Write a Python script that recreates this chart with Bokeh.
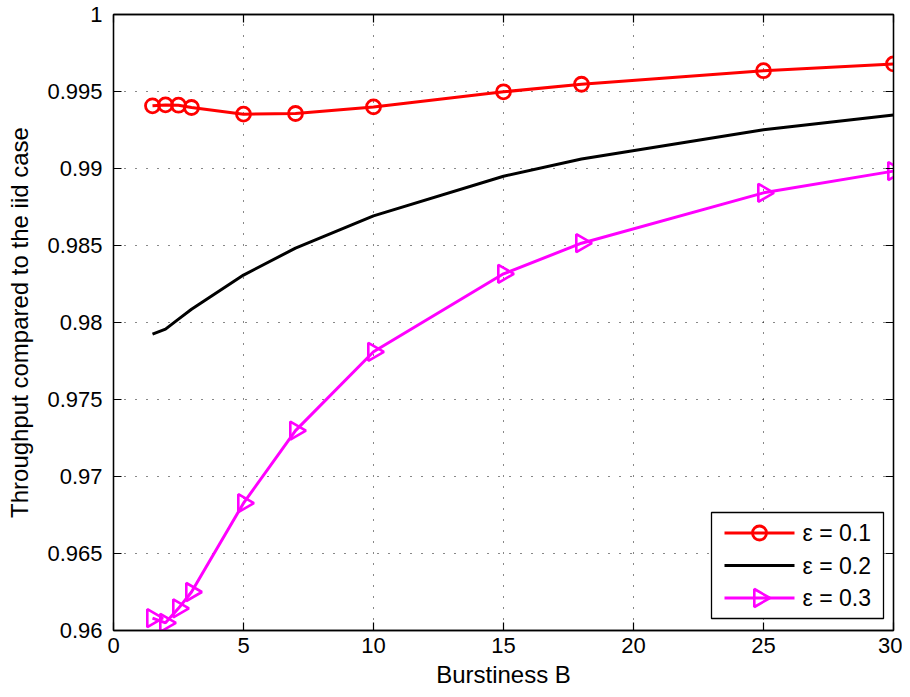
import numpy as np
from bokeh.plotting import figure
from bokeh.models import LinearAxis, FixedTicker, Range1d, CustomLabelingPolicy
from bokeh.core.properties import value
from bokeh.embed import file_html
from bokeh.resources import INLINE

# ---- data ----
burstiness = [1.5, 2, 2.5, 3, 5, 7, 10, 15, 18, 25, 30]
eps_01 = [0.99407, 0.99413, 0.99411, 0.99396, 0.99353, 0.99357, 0.99400, 0.99498, 0.99547, 0.99635, 0.99679]
eps_02 = [0.97925, 0.97957, 0.98022, 0.98086, 0.98308, 0.98483, 0.98692, 0.98950, 0.99062, 0.99252, 0.99348]
eps_03 = [0.96080, 0.96050, 0.96144, 0.96250, 0.96827, 0.97298, 0.97810, 0.98316, 0.98515, 0.98842, 0.98983]
series_labels = ["ε = 0.1", "ε = 0.2", "ε = 0.3"]

x_ticks = [0, 5, 10, 15, 20, 25, 30]
y_ticks = [0.96, 0.965, 0.97, 0.975, 0.98, 0.985, 0.99, 0.995, 1.0]
y_tick_labels = ["0.96", "0.965", "0.97", "0.975", "0.98", "0.985", "0.99", "0.995", "1"]

FONT = "Liberation Sans"
TICK_SIZE = "22px"
LABEL_SIZE = "24px"

W, H = 902, 695
BL, BR, BT, BB = 113, 9, 14, 65
FW, FH = W - BL - BR, H - BT - BB

p = figure(width=W, height=H, output_backend="svg", toolbar_location=None,
           x_range=Range1d(0, 30), y_range=Range1d(0.96, 1.0),
           min_border_left=BL, min_border_right=BR, min_border_top=BT, min_border_bottom=BB,
           x_axis_label="Burstiness B", y_axis_label="Throughput compared to the iid case")
p.background_fill_color = "white"
p.border_fill_color = "white"
p.outline_line_color = "black"
p.outline_line_width = 1.3
# pixel ranges spanning the frame, used only for the legend box
p.extra_x_ranges = {"px": Range1d(0, FW)}
p.extra_y_ranges = {"px": Range1d(0, FH)}

hide_labels = CustomLabelingPolicy(code="""
try { for (const i of Array.from(indices)) { indices.unset(i) } } catch (e) {}
return indices
""")

def style_axis(ax, show_labels):
    ax.axis_line_color = "black"
    ax.axis_line_width = 1.3
    ax.major_tick_in = 8
    ax.major_tick_out = 0
    ax.minor_tick_in = 0
    ax.minor_tick_out = 0
    ax.major_tick_line_color = "black"
    ax.major_tick_line_width = 1.2
    ax.major_label_text_font = FONT
    ax.major_label_text_color = "black"
    ax.axis_label_text_font = FONT
    ax.axis_label_text_font_size = LABEL_SIZE
    ax.axis_label_text_font_style = "normal"
    ax.axis_label_text_color = "black"
    if show_labels:
        ax.major_label_text_font_size = TICK_SIZE
    else:
        ax.major_label_text_font_size = "0px"
        ax.major_label_standoff = 0
        ax.major_label_policy = hide_labels

xt = FixedTicker(ticks=x_ticks)
yt = FixedTicker(ticks=y_ticks)
p.xaxis.ticker = xt
p.yaxis.ticker = yt
p.yaxis.major_label_overrides = {t: s for t, s in zip(y_ticks, y_tick_labels)}
style_axis(p.xaxis[0], True)
style_axis(p.yaxis[0], True)
p.xaxis.major_label_standoff = 7
p.xaxis.axis_label_standoff = 5
p.yaxis.major_label_standoff = 11
p.yaxis.axis_label_standoff = 11

top_ax = LinearAxis(ticker=FixedTicker(ticks=x_ticks))
style_axis(top_ax, False)
right_ax = LinearAxis(ticker=FixedTicker(ticks=y_ticks))
style_axis(right_ax, False)
p.add_layout(top_ax, "above")
p.add_layout(right_ax, "right")

for g in (p.xgrid[0], p.ygrid[0]):
    g.grid_line_color = "#111111"
    g.grid_line_alpha = 1.0
    g.grid_line_width = 1
    g.grid_line_dash = "1 10"
p.xgrid.ticker = xt
p.ygrid.ticker = yt

RED, MAG = "#ff0000", "#ff00ff"
colors = [RED, "black", MAG]
p.line(burstiness, eps_01, line_color=RED, line_width=3)
p.scatter(burstiness, eps_01, marker="circle", size=14, line_color=RED,
          line_width=2.8, fill_color=None)
p.line(burstiness, eps_02, line_color="black", line_width=3)
p.line(burstiness, eps_03, line_color=MAG, line_width=3)
p.scatter(burstiness, eps_03, marker="triangle", size=18, angle=-np.pi / 2,
          line_color=MAG, line_width=2.6, fill_color=None)

# ---- legend (drawn in frame pixel units) ----
LEG_L, LEG_B, LEG_W, LEG_H = 598, 12, 172, 106
ROW_H = 32.5
G_L, G_LEN, TXT_GAP = 13, 70, 8
rows_y = [LEG_B + LEG_H - 20.5 - i * ROW_H for i in range(3)]
g_x0 = LEG_L + G_L
g_x1 = g_x0 + G_LEN
g_xc = (g_x0 + g_x1) / 2
p.quad(left=[LEG_L], right=[LEG_L + LEG_W], bottom=[LEG_B], top=[LEG_B + LEG_H],
       x_range_name="px", y_range_name="px", fill_color="white", line_color="black",
       line_width=1.3)
p.segment(x0=[g_x0] * 3, x1=[g_x1] * 3, y0=rows_y, y1=rows_y, line_color=colors,
          line_width=3, x_range_name="px", y_range_name="px")
p.scatter([g_xc], [rows_y[0]], marker="circle", size=14, line_color=RED, line_width=2.8,
          fill_color=None, x_range_name="px", y_range_name="px")
p.scatter([g_xc], [rows_y[2]], marker="triangle", size=18, angle=-np.pi / 2,
          line_color=MAG, line_width=2.6, fill_color=None, x_range_name="px", y_range_name="px")
p.text(x=[g_x1 + TXT_GAP] * 3, y=rows_y, text=series_labels, text_font=value(FONT),
       text_font_size=value("23px"), text_color="black", text_baseline="middle",
       text_align="left", x_range_name="px", y_range_name="px")

open("out.html", "w").write(file_html(p, INLINE))
